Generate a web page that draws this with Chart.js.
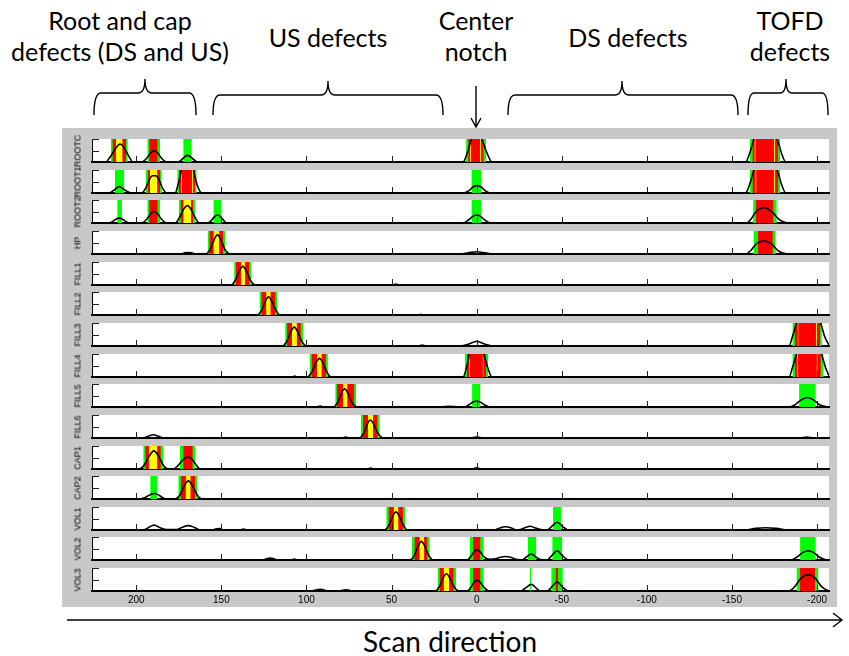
<!DOCTYPE html>
<html><head><meta charset="utf-8">
<script src="https://cdn.jsdelivr.net/npm/chart.js@4.4.0/dist/chart.umd.min.js"></script>
<style>
body{margin:0;background:#fff;width:849px;height:656px;overflow:hidden;position:relative;font-family:Lato,"Open Sans",sans-serif;}
#bg{position:absolute;left:62px;top:128px;width:775px;height:479px;background:#c8c8c8;}
.p{position:absolute;left:62px;width:775px;}
.lab{position:absolute;left:78px;width:0;height:0;}
.lab span{position:absolute;left:0;top:0;transform:translate(-50%,-50%) rotate(-90deg);font-family:"Liberation Sans",Arial,sans-serif;font-size:9px;line-height:9px;color:#000;white-space:nowrap;}
.t{position:absolute;font-size:25px;line-height:31px;text-align:center;color:#000;white-space:nowrap;transform:translateX(-50%);}
svg{position:absolute;left:0;top:0;}
</style></head><body>
<div id="bg"></div>
<div class="t" style="left:120px;top:5px;">Root and cap<br>defects (DS and US)</div>
<div class="t" style="left:328px;top:22px;">US defects</div>
<div class="t" style="left:476px;top:5px;">Center<br>notch</div>
<div class="t" style="left:628px;top:22px;">DS defects</div>
<div class="t" style="left:790px;top:5px;">TOFD<br>defects</div>
<div class="t" style="left:450px;top:624px;font-size:28px;line-height:34px;">Scan direction</div>
<svg width="849" height="656" viewBox="0 0 849 656" fill="none" stroke="#000" stroke-width="1.4">
<path d="M94,115 Q94,93 101,93 L138,93 Q145,93 145,79 Q145,93 152,93 L189,93 Q196,93 196,115"/>
<path d="M213,115 Q213,95 220,95 L321,95 Q328,95 328,81 Q328,95 335,95 L436,95 Q443,95 443,115"/>
<path d="M508,115 Q508,95 515,95 L615,95 Q622,95 622,81 Q622,95 629,95 L731,95 Q738,95 738,115"/>
<path d="M748,115 Q748,93 754,93 L780,93 Q786,93 786,79 Q786,93 792,93 L822,93 Q828,93 828,115"/>
<path d="M476,86 L476,127 M471,118 L476,127 L481,118"/>
<path d="M67,620 L842,620 M833,613 L842,620 L833,627"/>
</svg>
<script>
const panelNames = ['ROOTC','ROOT1','ROOT2','HP','FILL1','FILL2','FILL3','FILL4','FILL5','FILL6','CAP1','CAP2','VOL1','VOL2','VOL3'];
const xTicks = [200,150,100,50,0,-50,-100,-150,-200];
const yTicks = [0.5,1];
const xMin = -207, xMax = 226;

const greenBands = [
 [[215,205],[193.5,186],[172.4,167.4],[6.2,-5.5],[-160.6,-178.2]],
 [[212.5,207],[194.3,185],[175.9,164.5],[3.1,-2.8],[-160.6,-178.2]],
 [[211.2,208.4],[193.5,186],[175,165.5],[154.7,150.2],[3.1,-2.8],[-162.4,-176.3]],
 [[158,147.8],[-162.6,-175.7]],
 [[142.5,132.5]],
 [[127.6,117]],
 [[112.5,102],[-185.5,-202.8]],
 [[98.2,87.4],[7,-6.7],[-185.5,-203.8]],
 [[83.1,70.8],[2.7,-2.2],[-189.4,-199.2]],
 [[68,57]],
 [[195.9,184.1],[174.3,165.5]],
 [[191.8,187.8],[175.3,164.1]],
 [[53.1,41.9],[-44.9,-49.6]],
 [[38,27.6],[4.1,-4.1],[-30,-35],[-44.4,-50.2],[-190,-199.2]],
 [[23,12.1],[4.1,-4.1],[-31.2,-32],[-43.8,-50.6],[-187.9,-200.8]]
];
const redBands = [
 [[214,206],[192.4,187.4],[5,-4.1],[-162,-177]],
 [[193.3,186],[175,165.5],[-162,-177]],
 [[192.4,187.4],[173.9,166.5],[-164,-174.4]],
 [[157,148.8],[-165.3,-174]],
 [[141.5,133.5]],
 [[126.5,118.2]],
 [[111.4,103.3],[-186.9,-201.8]],
 [[97,88.6],[5.7,-5.5],[-186.9,-202.2]],
 [[82.1,71.9]],
 [[66.8,58.2]],
 [[194.7,185.6],[172.4,166.8]],
 [[173.9,165.5]],
 [[51.8,43.3]],
 [[36.6,29],[2.1,-2.2]],
 [[21.8,13.5],[2.1,-2.2],[-46.3,-47.9],[-190,-198.8]]
];
const yellowBands = [
 [[212,208],[4,3.4],[-1.9,-2.5],[-163.2,-163.9],[-174.7,-175.4]],
 [[192,187.6],[173.8,173.2],[167.3,166.7],[-163.7,-164.4],[-174.7,-175.4]],
 [[172.4,167.8]],
 [[154.7,151.2]],
 [[138.6,136]],
 [[123.7,121]],
 [[108.6,105.6],[-188.5,-189.1],[-199.3,-199.9]],
 [[93.9,91],[4.4,3.8],[-3.5,-4.1],[-188.3,-188.9],[-199.7,-200.3]],
 [[78.6,75.9]],
 [[63.9,60.9]],
 [[192.7,187.6]],
 [[171,168]],
 [[48.8,45.9]],
 [[33.7,30.8]],
 [[19.4,16.1]]
];
const curves = [
 [[226,0],[218,0],[215.5,0.2],[212,0.6],[209.5,0.78],[207,0.6],[204,0.2],[202,0],
  [197,0],[194,0.15],[191.5,0.4],[189.6,0.5],[187.5,0.4],[185,0.15],[182,0],
  [175.5,0],[173,0.12],[171,0.26],[170,0.29],[168.5,0.25],[166.5,0.12],[164,0],
  [8,0],[5.5,0.4],[3.5,0.9],[2,1.2],[-1.5,1.2],[-3.5,0.9],[-6,0.4],[-9,0],
  [-158,0],[-160.5,0.4],[-162.5,0.9],[-164,1.2],[-175,1.2],[-177,0.9],[-179,0.4],[-181.6,0],[-207,0]],
 [[226,0],[216,0],[213.5,0.1],[211.5,0.22],[210,0.28],[208.5,0.22],[206,0.1],[203,0],
  [197,0],[194.5,0.2],[192.5,0.55],[190.5,0.75],[188.5,0.75],[186.5,0.55],[184.5,0.2],[182,0],
  [177.2,0],[175.5,0.35],[174,0.8],[173,1.1],[166.8,1.1],[165.8,0.8],[164.2,0.35],[161.5,0],
  [7.6,0],[4.5,0.1],[2,0.27],[-0.2,0.32],[-2.5,0.27],[-5,0.1],[-8.4,0],
  [-158,0],[-160.5,0.4],[-162.5,0.9],[-164,1.2],[-175,1.2],[-177,0.9],[-179,0.4],[-181.6,0],[-207,0]],
 [[226,0],[217,0],[214,0.06],[212,0.16],[210,0.21],[208,0.16],[206,0.06],[203.5,0],
  [197,0],[194,0.15],[191.5,0.4],[189.6,0.51],[187.5,0.4],[185,0.15],[182,0],
  [177.2,0],[174.5,0.25],[172,0.62],[170,0.76],[168,0.62],[165.5,0.25],[163,0],
  [158,0],[156,0.1],[154,0.28],[152.3,0.35],[150.5,0.28],[148.5,0.1],[147,0],
  [8,0],[5,0.12],[2,0.3],[0,0.35],[-2,0.3],[-5,0.12],[-8.4,0],
  [-158.5,0],[-161,0.15],[-164,0.48],[-168.8,0.67],[-173.5,0.48],[-177,0.2],[-180,0.05],[-183,0],[-207,0]],
 [[226,0],[174,0],[171.5,0.05],[169.5,0.06],[167,0.04],[165.5,0],
  [159,0],[157,0.15],[152.3,0.83],[147.5,0.15],[145,0],
  [9.6,0],[5,0.05],[0,0.1],[-5,0.05],[-9,0],
  [-158,0],[-161,0.15],[-164.5,0.45],[-168.8,0.57],[-173,0.45],[-177,0.15],[-182.6,0],[-207,0]],
 [[226,0],[144.3,0],[142.3,0.15],[137.4,0.81],[132.4,0.15],[130.2,0],[49,0],[47.5,0.04],[46,0],[-207,0]],
 [[226,0],[128.8,0],[126.8,0.15],[122.3,0.79],[117.5,0.15],[115.5,0],[34,0],[33,0.03],[32,0],[-207,0]],
 [[226,0],[114,0],[112,0.15],[107.2,0.82],[102.3,0.15],[100.2,0],[34,0],[32,0.04],[30,0],
  [10,0],[5,0.08],[0,0.2],[-5,0.08],[-10,0],
  [-183.5,0],[-185.5,0.4],[-187.5,0.9],[-188.5,1.2],[-201,1.2],[-202.5,0.9],[-204.5,0.4],[-207,0.03]],
 [[226,0],[108,0],[107,0.04],[105.6,0],[99.4,0],[97.4,0.15],[92.3,0.81],[87.5,0.15],[85.5,0],
  [8,0],[6,0.4],[4.5,0.9],[3.5,1.2],[-3,1.2],[-4.5,0.9],[-6.5,0.4],[-9,0],
  [-183.5,0],[-185.5,0.4],[-187.5,0.9],[-188.5,1.2],[-201.5,1.2],[-203,0.9],[-205,0.4],[-207,0.05]],
 [[226,0],[94,0],[92,0.04],[90,0],[84.1,0],[82.1,0.15],[77.6,0.79],[72.9,0.15],[70.4,0],
  [21,0],[16,0.03],[11,0],[7.6,0],[4.5,0.1],[2,0.22],[0,0.26],[-2,0.22],[-4.5,0.1],[-8,0],
  [-183.5,0],[-187,0.1],[-190.5,0.3],[-194.3,0.41],[-198,0.3],[-201.5,0.1],[-205,0.02],[-207,0]],
 [[226,0],[196,0],[193,0.08],[190,0.14],[187,0.08],[184,0],[79,0],[77,0.04],[75,0],
  [68.8,0],[66.8,0.15],[62.5,0.78],[57.5,0.15],[55,0],[4,0],[0,0.04],[-4,0],[-190,0],[-194,0.04],[-198,0],[-207,0]],
 [[226,0],[198.2,0],[195.5,0.15],[192.5,0.55],[189.6,0.79],[186.8,0.55],[184,0.15],[181.2,0],
  [178.2,0],[175.5,0.15],[172.5,0.4],[169.8,0.53],[167,0.4],[164.5,0.15],[162.5,0],
  [64,0],[62.3,0.04],[60.8,0],[3,0],[0,0.05],[-3,0],[-207,0]],
 [[226,0],[197.8,0],[195,0.06],[192,0.18],[189.6,0.24],[187,0.18],[184.5,0.06],[181.8,0],
  [177.2,0],[174.5,0.15],[172,0.55],[169.4,0.79],[166.8,0.55],[164,0.15],[161.5,0],[-207,0]],
 [[226,0],[196,0],[193,0.1],[189.6,0.21],[186,0.1],[182,0.02],[176,0.02],[173,0.12],[169.4,0.19],[166,0.12],[162.5,0],
  [155.6,0],[153,0.05],[150.5,0.06],[148.8,0],[139,0],[137,0.04],[135,0],
  [54.1,0],[52,0.15],[47.4,0.79],[42.6,0.15],[40.6,0],
  [-10,0],[-14,0.1],[-17,0.14],[-20,0.1],[-23,0.01],[-25.7,0.02],[-29,0.12],[-31.5,0.16],[-34,0.1],[-37.5,0.02],
  [-41.4,0],[-44,0.15],[-47.3,0.34],[-50.5,0.15],[-54.1,0],
  [-158,0],[-164,0.07],[-169.8,0.1],[-176,0.07],[-182.6,0],[-207,0]],
 [[226,0],[126,0],[123,0.06],[121.5,0.08],[119,0.05],[117.4,0],[108.6,0],[107,0.04],[105.6,0],
  [39,0],[37,0.15],[32.5,0.81],[27.8,0.15],[25.6,0],
  [5.6,0],[3.5,0.15],[1.5,0.36],[-0.2,0.44],[-2,0.36],[-4.5,0.12],[-8,0.03],[-11,0.05],[-14,0.12],[-17,0.15],[-20,0.12],[-23.8,0.02],
  [-26.7,0],[-29,0.12],[-32.2,0.26],[-35,0.12],[-37.5,0.02],
  [-41.4,0],[-44,0.18],[-47.3,0.4],[-50.5,0.18],[-54.1,0],
  [-184.5,0],[-188,0.12],[-191.5,0.32],[-194.7,0.4],[-198,0.32],[-201.5,0.12],[-206,0],[-207,0]],
 [[226,0],[97,0],[94,0.05],[92,0.07],[89.5,0.04],[88,0],[81,0],[78,0.04],[76,0.05],[73.3,0],
  [24.3,0],[22.3,0.15],[17.8,0.75],[13,0.15],[10.6,0],
  [5.6,0],[3.5,0.15],[1.5,0.38],[-0.2,0.46],[-2,0.38],[-4.5,0.15],[-7.5,0],
  [-25.7,0],[-28.5,0.12],[-32.2,0.29],[-35,0.12],[-37.5,0],
  [-41.4,0],[-44,0.17],[-47.3,0.39],[-50.5,0.17],[-54.1,0],
  [-183.5,0],[-187,0.2],[-190.5,0.55],[-194.7,0.71],[-199,0.55],[-202.5,0.2],[-206,0.03],[-207,0]]
];

const whiteArea = {
  id: 'whiteArea',
  beforeDraw(chart) {
    const {ctx, chartArea: a} = chart;
    ctx.save();
    ctx.fillStyle = '#ffffff';
    ctx.fillRect(a.left, a.top, a.right - a.left, a.bottom - a.top + 1);
    ctx.restore();
  }
};

const innerTicks = {
  id: 'innerTicks',
  afterDraw(chart) {
    const {ctx, chartArea: a, scales: {x, y}} = chart;
    ctx.save();
    ctx.strokeStyle = '#222';
    ctx.lineWidth = 1;
    ctx.beginPath();
    xTicks.forEach(v => {
      const px = Math.round(x.getPixelForValue(v)) + 0.5;
      ctx.moveTo(px, a.bottom); ctx.lineTo(px, a.bottom - 6);
    });
    yTicks.forEach(v => {
      const py = Math.round(y.getPixelForValue(v)) + 0.5;
      ctx.moveTo(a.left, py); ctx.lineTo(a.left + 7, py);
    });
    ctx.stroke();
    ctx.restore();
  }
};

function bandSets(list, color, order) {
  return list.map(b => ({
    data: [{x: b[0], y: 1}, {x: b[1], y: 1}],
    fill: 'start', backgroundColor: color, borderColor: 'rgba(0,0,0,0)', borderWidth: 0,
    pointRadius: 0, order: order
  }));
}

panelNames.forEach((name, i) => {
  const isLast = i === panelNames.length - 1;
  const top = Math.round(139 + 30.65 * i);
  const div = document.createElement('div');
  div.className = 'p';
  div.style.top = top + 'px';
  div.style.height = (isLast ? 45 : 25) + 'px';
  const cv = document.createElement('canvas');
  div.appendChild(cv);
  document.body.appendChild(div);
  const lab = document.createElement('div');
  lab.className = 'lab';
  lab.style.top = (top + 11.5) + 'px';
  const sp = document.createElement('span');
  sp.textContent = name;
  lab.appendChild(sp);
  document.body.appendChild(lab);
  const datasets = [
    {data: curves[i].map(p => ({x: p[0], y: p[1]})), borderColor: '#000', borderWidth: 1.6,
     pointRadius: 0, fill: false, cubicInterpolationMode: 'monotone', order: 0},
    ...bandSets(yellowBands[i], '#ffff00', 1),
    ...bandSets(redBands[i], '#ff0000', 2),
    ...bandSets(greenBands[i], '#00ff00', 3)
  ];
  new Chart(cv, {
    type: 'line',
    data: {datasets},
    options: {
      responsive: true, maintainAspectRatio: false, animation: false, events: [],
      devicePixelRatio: 1,
      layout: {padding: {left: 0, right: 8, top: 0, bottom: isLast ? 0 : 2}},
      plugins: {legend: {display: false}, tooltip: {enabled: false}},
      scales: {
        x: {
          type: 'linear', min: xMin, max: xMax, reverse: true, z: 1,
          grid: {display: false, drawTicks: false},
          border: {display: true, color: '#000', width: 2},
          ticks: {display: isLast, font: {family: 'Liberation Sans', size: 10}, color: '#000', padding: 3, maxRotation: 0},
          afterBuildTicks: s => { s.ticks = xTicks.map(v => ({value: v})); },
          afterFit: s => { s.height = isLast ? 22 : 0; }
        },
        y: {
          type: 'linear', min: 0, max: 1, z: 1,
          grid: {display: false, drawTicks: false},
          border: {display: true, color: '#000', width: 1},
          ticks: {display: false},
          afterFit: s => { s.width = 30; }
        }
      }
    },
    plugins: [whiteArea, innerTicks]
  });
});
</script>
</body></html>
